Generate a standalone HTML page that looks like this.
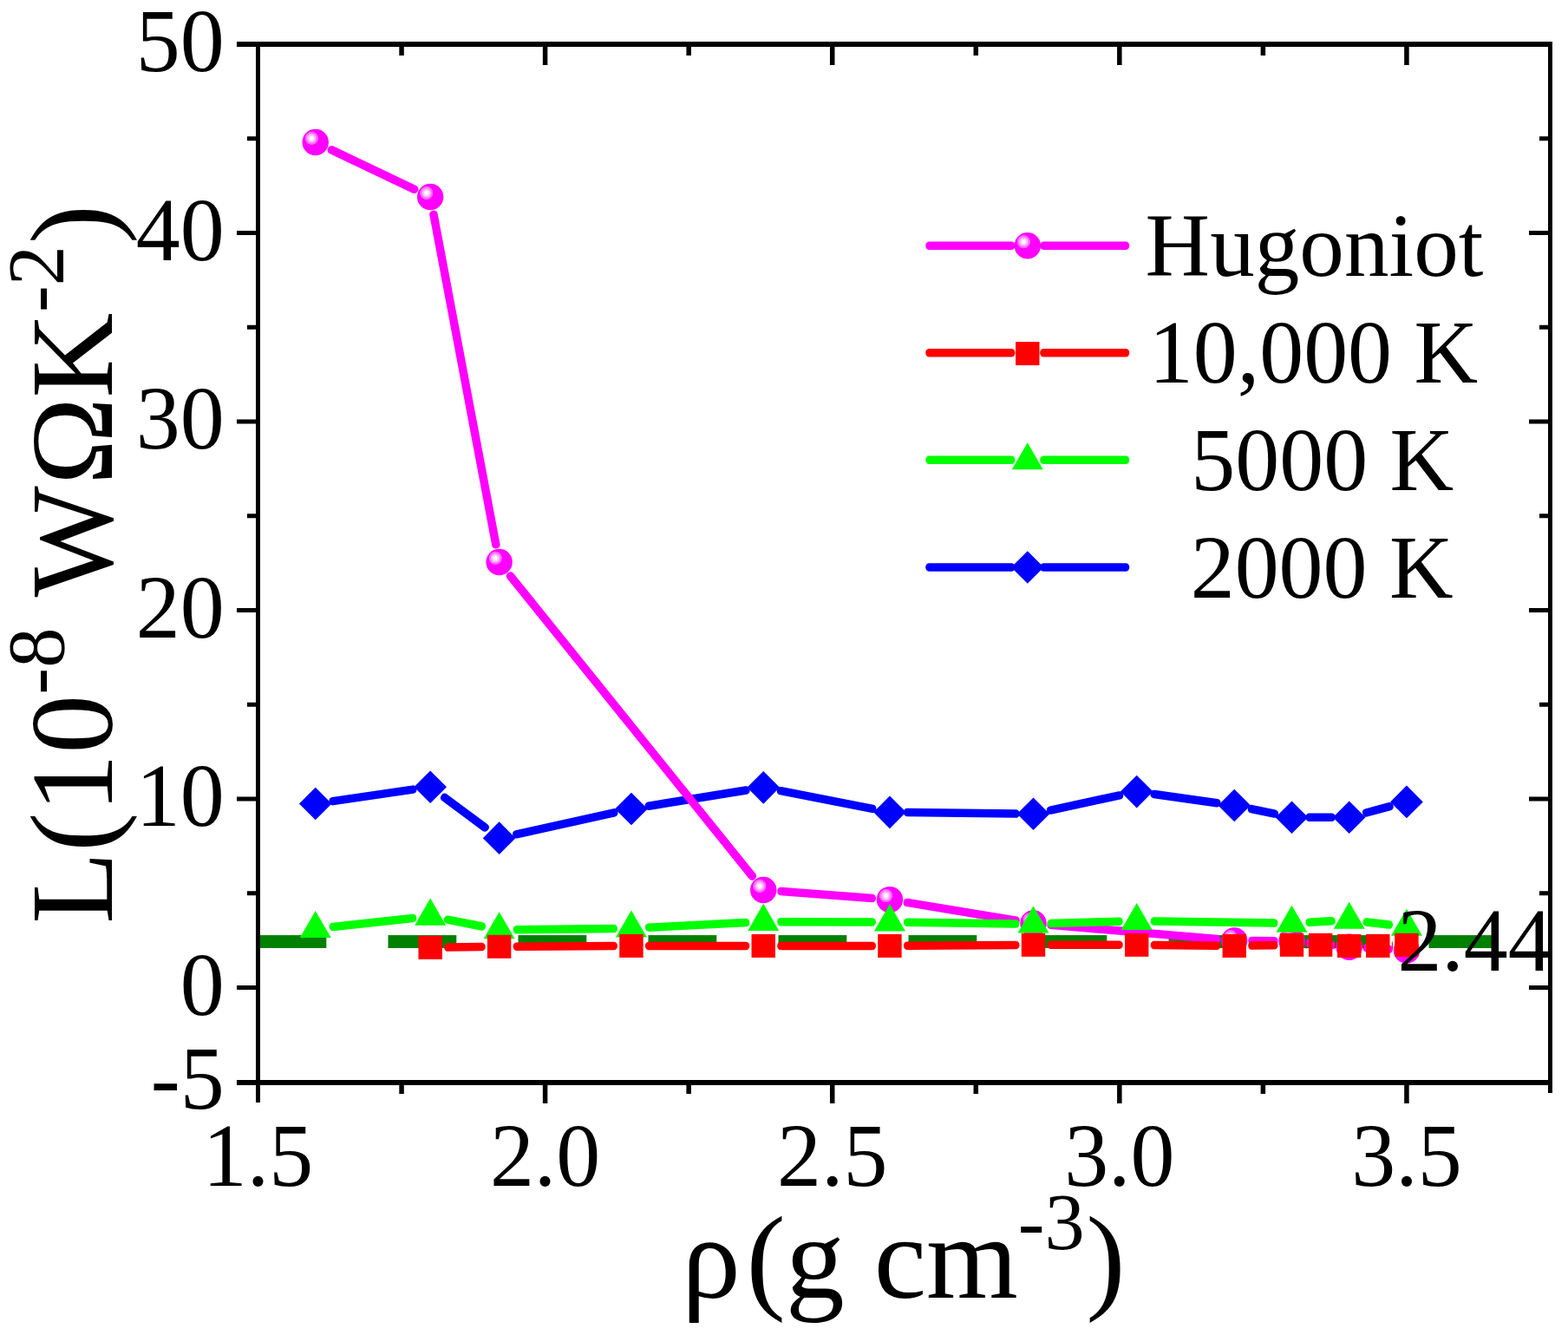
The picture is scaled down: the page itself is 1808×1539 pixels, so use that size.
<!DOCTYPE html>
<html lang="en"><head><meta charset="utf-8"><title>Lorenz number vs density</title>
<style>html,body{margin:0;padding:0;background:#fff}body{width:1808px;height:1539px;overflow:hidden}svg{display:block}text{font-family:"Liberation Serif","DejaVu Serif",serif;fill:#000}</style></head><body>
<svg width="1808" height="1539" viewBox="0 0 1808 1539">
<defs><radialGradient id="hl" cx="0.5" cy="0.5" r="0.5"><stop offset="0" stop-color="#ffffff"/><stop offset="0.3" stop-color="#fff0ff"/><stop offset="0.38" stop-color="#ffc8ff"/><stop offset="0.6" stop-color="#ffb0ff"/><stop offset="0.68" stop-color="#ff78ff"/><stop offset="0.9" stop-color="#ff60ff"/><stop offset="1" stop-color="#ff00ff"/></radialGradient></defs>
<rect width="1808" height="1539" fill="#fff"/>
<g id="refline" fill="#008000">
<rect x="297.5" y="1078.08" width="78.8" height="14.9"/>
<rect x="447.5" y="1078.08" width="78.8" height="14.9"/>
<rect x="597.5" y="1078.08" width="78.8" height="14.9"/>
<rect x="747.5" y="1078.08" width="78.8" height="14.9"/>
<rect x="897.5" y="1078.08" width="78.8" height="14.9"/>
<rect x="1047.5" y="1078.08" width="78.8" height="14.9"/>
<rect x="1197.5" y="1078.08" width="78.8" height="14.9"/>
<rect x="1347.5" y="1078.08" width="78.8" height="14.9"/>
<rect x="1497.5" y="1078.08" width="78.8" height="14.9"/>
<rect x="1647.5" y="1078.08" width="73.5" height="14.9"/>
</g>
<g id="s-blue">
<rect x="379.72" y="921.8" width="101.85" height="9.5" rx="4.2" ry="4.2" fill="#0000ff" transform="rotate(-8.32 363.72 926.55)"/>
<rect x="512.17" y="902.43" width="66.96" height="9.5" rx="4.2" ry="4.2" fill="#0000ff" transform="rotate(36.58 496.17 907.18)"/>
<rect x="591.63" y="961.41" width="124" height="9.5" rx="4.2" ry="4.2" fill="#0000ff" transform="rotate(-12.49 575.63 966.16)"/>
<rect x="743.94" y="927.68" width="122.28" height="9.5" rx="4.2" ry="4.2" fill="#0000ff" transform="rotate(-9.17 727.94 932.43)"/>
<rect x="896.25" y="903.08" width="116.45" height="9.5" rx="4.2" ry="4.2" fill="#0000ff" transform="rotate(11.07 880.25 907.83)"/>
<rect x="1041.94" y="931.6" width="133.57" height="9.5" rx="4.2" ry="4.2" fill="#0000ff" transform="rotate(0.68 1025.94 936.35)"/>
<rect x="1207.5" y="933.55" width="89.93" height="9.5" rx="4.2" ry="4.2" fill="#0000ff" transform="rotate(-12.16 1191.5 938.3)"/>
<rect x="1326.7" y="907.87" width="81.69" height="9.5" rx="4.2" ry="4.2" fill="#0000ff" transform="rotate(8.03 1310.7 912.62)"/>
<rect x="1439.27" y="923.76" width="35.63" height="9.5" rx="4.2" ry="4.2" fill="#0000ff" transform="rotate(11.7 1423.27 928.51)"/>
<rect x="1505.5" y="937.47" width="34.22" height="9.5" rx="4.2" ry="4.2" fill="#0000ff" transform="rotate(0 1489.5 942.22)"/>
<rect x="1571.72" y="937.47" width="36.58" height="9.5" rx="4.2" ry="4.2" fill="#0000ff" transform="rotate(-15.08 1555.72 942.22)"/>
<polygon points="363.72,907.75 382.52,926.55 363.72,945.35 344.92,926.55" fill="#0000ff"/>
<polygon points="496.17,888.38 514.97,907.18 496.17,925.98 477.37,907.18" fill="#0000ff"/>
<polygon points="575.63,947.36 594.43,966.16 575.63,984.96 556.83,966.16" fill="#0000ff"/>
<polygon points="727.94,913.63 746.74,932.43 727.94,951.23 709.14,932.43" fill="#0000ff"/>
<polygon points="880.25,889.03 899.05,907.83 880.25,926.63 861.45,907.83" fill="#0000ff"/>
<polygon points="1025.94,917.55 1044.74,936.35 1025.94,955.15 1007.14,936.35" fill="#0000ff"/>
<polygon points="1191.5,919.5 1210.3,938.3 1191.5,957.1 1172.7,938.3" fill="#0000ff"/>
<polygon points="1310.7,893.82 1329.5,912.62 1310.7,931.42 1291.9,912.62" fill="#0000ff"/>
<polygon points="1423.27,909.71 1442.07,928.51 1423.27,947.31 1404.47,928.51" fill="#0000ff"/>
<polygon points="1489.5,923.42 1508.3,942.22 1489.5,961.02 1470.7,942.22" fill="#0000ff"/>
<polygon points="1555.72,923.42 1574.52,942.22 1555.72,961.02 1536.92,942.22" fill="#0000ff"/>
<polygon points="1621.94,905.58 1640.74,924.38 1621.94,943.18 1603.14,924.38" fill="#0000ff"/>
</g>
<g id="s-magenta">
<rect x="379.72" y="159.21" width="114.71" height="9.5" rx="4.2" ry="4.2" fill="#ff00ff" transform="rotate(25.48 363.72 163.96)"/>
<rect x="512.17" y="222.32" width="396.34" height="9.5" rx="4.2" ry="4.2" fill="#ff00ff" transform="rotate(79.31 496.17 227.07)"/>
<rect x="591.63" y="643.23" width="453.49" height="9.5" rx="4.2" ry="4.2" fill="#ff00ff" transform="rotate(51.14 575.63 647.98)"/>
<rect x="896.25" y="1021.26" width="114.11" height="9.5" rx="4.2" ry="4.2" fill="#ff00ff" transform="rotate(4.36 880.25 1026.01)"/>
<rect x="1041.94" y="1032.36" width="135.81" height="9.5" rx="4.2" ry="4.2" fill="#ff00ff" transform="rotate(9.4 1025.94 1037.11)"/>
<rect x="1207.5" y="1059.78" width="200.62" height="9.5" rx="4.2" ry="4.2" fill="#ff00ff" transform="rotate(4.88 1191.5 1064.53)"/>
<rect x="1439.27" y="1079.59" width="34.23" height="9.5" rx="4.2" ry="4.2" fill="#ff00ff" transform="rotate(0.56 1423.27 1084.34)"/>
<rect x="1505.5" y="1080.24" width="34.56" height="9.5" rx="4.2" ry="4.2" fill="#ff00ff" transform="rotate(5.82 1489.5 1084.99)"/>
<rect x="1571.72" y="1086.99" width="34.33" height="9.5" rx="4.2" ry="4.2" fill="#ff00ff" transform="rotate(3.2 1555.72 1091.74)"/>
<circle cx="363.72" cy="163.96" r="15.2" fill="#ff00ff"/><circle cx="359.32" cy="159.36" r="8" fill="url(#hl)"/>
<circle cx="496.17" cy="227.07" r="15.2" fill="#ff00ff"/><circle cx="491.77" cy="222.47" r="8" fill="url(#hl)"/>
<circle cx="575.63" cy="647.98" r="15.2" fill="#ff00ff"/><circle cx="571.23" cy="643.38" r="8" fill="url(#hl)"/>
<circle cx="880.25" cy="1026.01" r="15.2" fill="#ff00ff"/><circle cx="875.85" cy="1021.41" r="8" fill="url(#hl)"/>
<circle cx="1025.94" cy="1037.11" r="15.2" fill="#ff00ff"/><circle cx="1021.54" cy="1032.51" r="8" fill="url(#hl)"/>
<circle cx="1191.5" cy="1064.53" r="15.2" fill="#ff00ff"/><circle cx="1187.1" cy="1059.93" r="8" fill="url(#hl)"/>
<circle cx="1423.27" cy="1084.34" r="15.2" fill="#ff00ff"/><circle cx="1418.87" cy="1079.74" r="8" fill="url(#hl)"/>
<circle cx="1489.5" cy="1084.99" r="15.2" fill="#ff00ff"/><circle cx="1485.1" cy="1080.39" r="8" fill="url(#hl)"/>
<circle cx="1555.72" cy="1091.74" r="15.2" fill="#ff00ff"/><circle cx="1551.32" cy="1087.14" r="8" fill="url(#hl)"/>
<circle cx="1621.94" cy="1095.44" r="15.2" fill="#ff00ff"/><circle cx="1617.54" cy="1090.84" r="8" fill="url(#hl)"/>
</g>
<g id="s-green">
<rect x="379.72" y="1065.88" width="101.22" height="9.5" rx="4.2" ry="4.2" fill="#00ff00" transform="rotate(-6.19 363.72 1070.63)"/>
<rect x="512.17" y="1051.51" width="49" height="9.5" rx="4.2" ry="4.2" fill="#00ff00" transform="rotate(11.15 496.17 1056.26)"/>
<rect x="591.63" y="1067.18" width="120.32" height="9.5" rx="4.2" ry="4.2" fill="#00ff00" transform="rotate(-0.65 575.63 1071.93)"/>
<rect x="743.94" y="1065.44" width="120.5" height="9.5" rx="4.2" ry="4.2" fill="#00ff00" transform="rotate(-2.86 727.94 1070.19)"/>
<rect x="896.25" y="1057.82" width="113.69" height="9.5" rx="4.2" ry="4.2" fill="#00ff00" transform="rotate(0.17 880.25 1062.57)"/>
<rect x="1041.94" y="1058.26" width="133.57" height="9.5" rx="4.2" ry="4.2" fill="#00ff00" transform="rotate(0.75 1025.94 1063.01)"/>
<rect x="1207.5" y="1060.44" width="87.25" height="9.5" rx="4.2" ry="4.2" fill="#00ff00" transform="rotate(-1.67 1191.5 1065.19)"/>
<rect x="1326.7" y="1056.95" width="146.82" height="9.5" rx="4.2" ry="4.2" fill="#00ff00" transform="rotate(0.86 1310.7 1061.7)"/>
<rect x="1505.5" y="1059.65" width="34.34" height="9.5" rx="4.2" ry="4.2" fill="#00ff00" transform="rotate(-3.37 1489.5 1064.4)"/>
<rect x="1571.72" y="1055.76" width="34.7" height="9.5" rx="4.2" ry="4.2" fill="#00ff00" transform="rotate(6.84 1555.72 1060.51)"/>
<polygon points="363.72,1049.89 381.72,1080.99 345.72,1080.99" fill="#00ff00"/>
<polygon points="496.17,1035.53 514.17,1066.63 478.17,1066.63" fill="#00ff00"/>
<polygon points="575.63,1051.2 593.63,1082.3 557.63,1082.3" fill="#00ff00"/>
<polygon points="727.94,1049.46 745.94,1080.56 709.94,1080.56" fill="#00ff00"/>
<polygon points="880.25,1041.84 898.25,1072.94 862.25,1072.94" fill="#00ff00"/>
<polygon points="1025.94,1042.28 1043.94,1073.38 1007.94,1073.38" fill="#00ff00"/>
<polygon points="1191.5,1044.45 1209.5,1075.55 1173.5,1075.55" fill="#00ff00"/>
<polygon points="1310.7,1040.97 1328.7,1072.07 1292.7,1072.07" fill="#00ff00"/>
<polygon points="1489.5,1043.67 1507.5,1074.77 1471.5,1074.77" fill="#00ff00"/>
<polygon points="1555.72,1039.77 1573.72,1070.87 1537.72,1070.87" fill="#00ff00"/>
<polygon points="1621.94,1047.72 1639.94,1078.82 1603.94,1078.82" fill="#00ff00"/>
</g>
<g id="s-red">
<rect x="512.17" y="1087.64" width="47.47" height="9.5" rx="4.2" ry="4.2" fill="#ff0000" transform="rotate(-0.78 496.17 1092.39)"/>
<rect x="591.63" y="1086.55" width="120.31" height="9.5" rx="4.2" ry="4.2" fill="#ff0000" transform="rotate(-0.33 575.63 1091.3)"/>
<rect x="743.94" y="1085.68" width="120.31" height="9.5" rx="4.2" ry="4.2" fill="#ff0000" transform="rotate(0 727.94 1090.43)"/>
<rect x="896.25" y="1085.68" width="113.69" height="9.5" rx="4.2" ry="4.2" fill="#ff0000" transform="rotate(0 880.25 1090.43)"/>
<rect x="1041.94" y="1085.68" width="133.56" height="9.5" rx="4.2" ry="4.2" fill="#ff0000" transform="rotate(-0.38 1025.94 1090.43)"/>
<rect x="1207.5" y="1084.59" width="87.2" height="9.5" rx="4.2" ry="4.2" fill="#ff0000" transform="rotate(0 1191.5 1089.34)"/>
<rect x="1326.7" y="1084.59" width="80.58" height="9.5" rx="4.2" ry="4.2" fill="#ff0000" transform="rotate(0.55 1310.7 1089.34)"/>
<rect x="1439.27" y="1085.68" width="34.23" height="9.5" rx="4.2" ry="4.2" fill="#ff0000" transform="rotate(-0.94 1423.27 1090.43)"/>
<rect x="1505.5" y="1084.59" width="1.11" height="9.5" rx="4.2" ry="4.2" fill="#ff0000" transform="rotate(0 1489.5 1089.34)"/>
<rect x="1538.61" y="1084.59" width="1.13" height="9.5" rx="4.2" ry="4.2" fill="#ff0000" transform="rotate(1.88 1522.61 1089.34)"/>
<rect x="1571.72" y="1085.68" width="1.11" height="9.5" rx="4.2" ry="4.2" fill="#ff0000" transform="rotate(0 1555.72 1090.43)"/>
<rect x="1604.83" y="1085.68" width="1.13" height="9.5" rx="4.2" ry="4.2" fill="#ff0000" transform="rotate(-1.88 1588.83 1090.43)"/>
<rect x="482.47" y="1078.89" width="27.4" height="27" fill="#ff0000"/>
<rect x="561.93" y="1077.8" width="27.4" height="27" fill="#ff0000"/>
<rect x="714.24" y="1076.93" width="27.4" height="27" fill="#ff0000"/>
<rect x="866.55" y="1076.93" width="27.4" height="27" fill="#ff0000"/>
<rect x="1012.24" y="1076.93" width="27.4" height="27" fill="#ff0000"/>
<rect x="1177.8" y="1075.84" width="27.4" height="27" fill="#ff0000"/>
<rect x="1297" y="1075.84" width="27.4" height="27" fill="#ff0000"/>
<rect x="1409.57" y="1076.93" width="27.4" height="27" fill="#ff0000"/>
<rect x="1475.8" y="1075.84" width="27.4" height="27" fill="#ff0000"/>
<rect x="1508.91" y="1075.84" width="27.4" height="27" fill="#ff0000"/>
<rect x="1542.02" y="1076.93" width="27.4" height="27" fill="#ff0000"/>
<rect x="1575.13" y="1076.93" width="27.4" height="27" fill="#ff0000"/>
<rect x="1608.24" y="1075.84" width="27.4" height="27" fill="#ff0000"/>
</g>
<text id="ref-label" font-size="104" transform="translate(1611.4 1118.9) scale(0.98 1)">2.44</text>
<g id="axes" fill="#000">
<rect x="295" y="48" width="5" height="1223"/>
<rect x="1785" y="48" width="5" height="1212"/>
<rect x="273" y="48" width="1517" height="6"/>
<rect x="273" y="1245" width="1517" height="6"/>
<rect x="460.31" y="1250" width="5.5" height="11"/>
<rect x="460.31" y="53" width="5.5" height="11"/>
<rect x="625.86" y="1250" width="5.5" height="22"/>
<rect x="625.86" y="53" width="5.5" height="22"/>
<rect x="791.41" y="1250" width="5.5" height="11"/>
<rect x="791.41" y="53" width="5.5" height="11"/>
<rect x="956.97" y="1250" width="5.5" height="22"/>
<rect x="956.97" y="53" width="5.5" height="22"/>
<rect x="1122.53" y="1250" width="5.5" height="11"/>
<rect x="1122.53" y="53" width="5.5" height="11"/>
<rect x="1288.08" y="1250" width="5.5" height="22"/>
<rect x="1288.08" y="53" width="5.5" height="22"/>
<rect x="1453.63" y="1250" width="5.5" height="11"/>
<rect x="1453.63" y="53" width="5.5" height="11"/>
<rect x="1619.19" y="1250" width="5.5" height="22"/>
<rect x="1619.19" y="53" width="5.5" height="22"/>
<rect x="285" y="157.25" width="11" height="5"/>
<rect x="1775" y="157.25" width="11" height="5"/>
<rect x="273" y="266" width="23" height="5"/>
<rect x="1763" y="266" width="23" height="5"/>
<rect x="285" y="374.75" width="11" height="5"/>
<rect x="1775" y="374.75" width="11" height="5"/>
<rect x="273" y="483.5" width="23" height="5"/>
<rect x="1763" y="483.5" width="23" height="5"/>
<rect x="285" y="592.25" width="11" height="5"/>
<rect x="1775" y="592.25" width="11" height="5"/>
<rect x="273" y="701" width="23" height="5"/>
<rect x="1763" y="701" width="23" height="5"/>
<rect x="285" y="809.75" width="11" height="5"/>
<rect x="1775" y="809.75" width="11" height="5"/>
<rect x="273" y="918.5" width="23" height="5"/>
<rect x="1763" y="918.5" width="23" height="5"/>
<rect x="285" y="1027.25" width="11" height="5"/>
<rect x="1775" y="1027.25" width="11" height="5"/>
<rect x="273" y="1136" width="23" height="5"/>
<rect x="1763" y="1136" width="23" height="5"/>
</g>
<g id="ticklabels" font-size="104">
<text transform="translate(258.6 82) scale(0.98 1)" text-anchor="end">50</text>
<text transform="translate(258.6 299.5) scale(0.98 1)" text-anchor="end">40</text>
<text transform="translate(258.6 517) scale(0.98 1)" text-anchor="end">30</text>
<text transform="translate(258.6 734.5) scale(0.98 1)" text-anchor="end">20</text>
<text transform="translate(258.6 952) scale(0.98 1)" text-anchor="end">10</text>
<text transform="translate(258.6 1169.5) scale(0.98 1)" text-anchor="end">0</text>
<text transform="translate(258.6 1278.25) scale(0.98 1)" text-anchor="end">-5</text>
<text transform="translate(297.5 1366.9) scale(0.98 1)" text-anchor="middle">1.5</text>
<text transform="translate(628.61 1366.9) scale(0.98 1)" text-anchor="middle">2.0</text>
<text transform="translate(959.72 1366.9) scale(0.98 1)" text-anchor="middle">2.5</text>
<text transform="translate(1290.83 1366.9) scale(0.98 1)" text-anchor="middle">3.0</text>
<text transform="translate(1621.94 1366.9) scale(0.98 1)" text-anchor="middle">3.5</text>
</g>
<g id="legend" font-size="104">
<rect x="1067.3" y="278.55" width="103.1" height="9.5" rx="4.2" ry="4.2" fill="#ff00ff" transform="rotate(0 1052.9 283.3)"/>
<rect x="1199.2" y="278.55" width="103" height="9.5" rx="4.2" ry="4.2" fill="#ff00ff" transform="rotate(0 1184.8 283.3)"/>
<circle cx="1184.8" cy="283.3" r="15.2" fill="#ff00ff"/><circle cx="1180.4" cy="278.7" r="8" fill="url(#hl)"/>
<text transform="translate(1320.6 317.9) scale(0.9925 1)">Hugoniot</text>
<rect x="1067.3" y="402.05" width="103.1" height="9.5" rx="4.2" ry="4.2" fill="#ff0000" transform="rotate(0 1052.9 406.8)"/>
<rect x="1199.2" y="402.05" width="103" height="9.5" rx="4.2" ry="4.2" fill="#ff0000" transform="rotate(0 1184.8 406.8)"/>
<rect x="1171.1" y="394.1" width="27.4" height="27" fill="#ff0000"/>
<text transform="translate(1324.8 441.4) scale(0.98 1)">10,000 K</text>
<rect x="1067.3" y="525.45" width="103.1" height="9.5" rx="4.2" ry="4.2" fill="#00ff00" transform="rotate(0 1052.9 530.2)"/>
<rect x="1199.2" y="525.45" width="103" height="9.5" rx="4.2" ry="4.2" fill="#00ff00" transform="rotate(0 1184.8 530.2)"/>
<polygon points="1184.8,510.27 1202.8,541.37 1166.8,541.37" fill="#00ff00"/>
<text transform="translate(1373.3 564.8) scale(0.98 1)">5000 K</text>
<rect x="1067.3" y="649.25" width="103.1" height="9.5" rx="4.2" ry="4.2" fill="#0000ff" transform="rotate(0 1052.9 654)"/>
<rect x="1199.2" y="649.25" width="103" height="9.5" rx="4.2" ry="4.2" fill="#0000ff" transform="rotate(0 1184.8 654)"/>
<polygon points="1184.8,635.2 1203.6,654 1184.8,672.8 1166,654" fill="#0000ff"/>
<text transform="translate(1372.7 688.6) scale(0.98 1)">2000 K</text>
</g>
<g id="titles" font-size="136">
<text x="786" y="1496.4">ρ<tspan dx="6.5">(g cm</tspan><tspan font-size="92.48" dy="-56">-3</tspan><tspan dy="56" dx="1.5">)</tspan></text>
<text transform="translate(128.6 1065) rotate(-90)" x="0" y="0">L(10<tspan font-size="92.48" dy="-55.4">-8</tspan><tspan dy="55.4"> </tspan><tspan dx="3.5">W</tspan><tspan dx="1.1">Ω</tspan><tspan dx="-0.7">K</tspan><tspan font-size="92.48" dy="-55.4" dx="0.5">-2</tspan><tspan dy="55.4" dx="1.6">)</tspan></text>
</g>
</svg></body></html>
